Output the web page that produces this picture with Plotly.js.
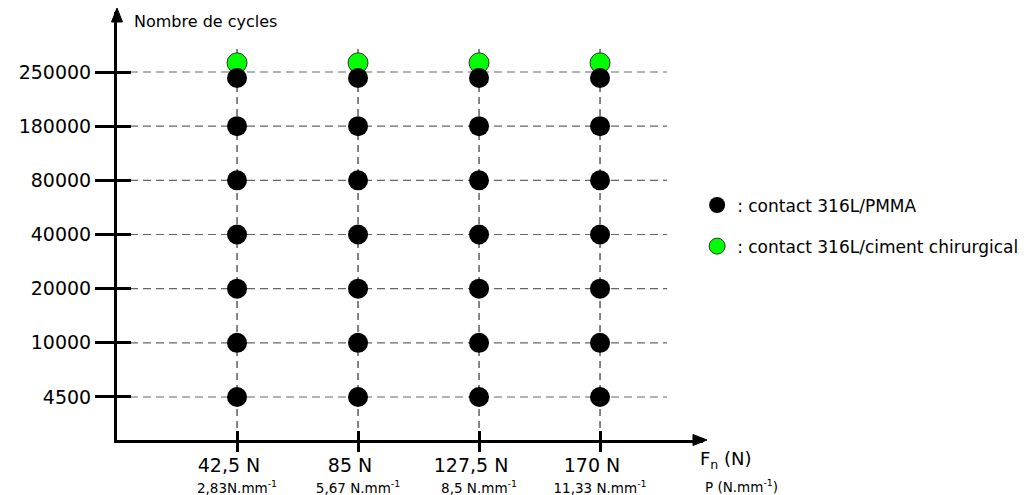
<!DOCTYPE html>
<html>
<head>
<meta charset="utf-8">
<script src="https://cdn.plot.ly/plotly-3.0.1.min.js"></script>
<style>html,body{margin:0;padding:0;background:#fff;}</style>
</head>
<body>
<div id="chart" style="width:1030px;height:495px;"></div>
<script>
// ---- data ----
const forceLabels = ['42,5 N', '85 N', '127,5 N', '170 N'];
const pressureLabels = ['2,83N.mm<sup>-1</sup>', '5,67 N.mm<sup>-1</sup>', '8,5 N.mm<sup>-1</sup>', '11,33 N.mm<sup>-1</sup>'];
const forceValues = [42.5, 85, 127.5, 170];
const cycleLevels = [4500, 10000, 20000, 40000, 80000, 180000, 250000];
// cycles tested for each force
const pmmaCycles = [4500, 10000, 20000, 40000, 80000, 180000, 250000];
const cimentCycles = [250000];
const pmmaName = ': contact 316L/PMMA';
const cimentName = ': contact 316L/ciment chirurgical';

// ---- build points ----
const fIdx = f => forceValues.indexOf(f);
const cIdx = c => cycleLevels.indexOf(c);
// visual dodge when both contacts share the same (force, cycles) cell
const dodgeUp = 0.17, dodgeDown = 0.11;

const pmX = [], pmY = [], ciX = [], ciY = [];
forceValues.forEach(f => {
  pmmaCycles.forEach(c => {
    pmX.push(fIdx(f));
    pmY.push(cIdx(c) - (cimentCycles.includes(c) ? dodgeDown : 0));
  });
  cimentCycles.forEach(c => {
    ciX.push(fIdx(f));
    ciY.push(cIdx(c) + (pmmaCycles.includes(c) ? dodgeUp : 0));
  });
});

const xRange = [-0.992, 3.851];
const yRange = [-0.794, 7.108];
const xTicks = forceLabels.map((_, i) => i);
const yTicks = cycleLevels.map((_, i) => i);

const traces = [
  // empty helper trace so that the overlay axes (inner half of the crossing ticks) get drawn
  {type: 'scatter', mode: 'markers', x: [], y: [], xaxis: 'x2', yaxis: 'y2', showlegend: false, hoverinfo: 'skip'},
  {
    type: 'scatter', mode: 'markers', x: ciX, y: ciY, name: cimentName,
    legendgroup: 'b', legendrank: 2,
    marker: {symbol: 'circle', size: 20, color: '#00ff00', line: {color: '#333', width: 1}},
    hoverinfo: 'skip'
  },
  {
    type: 'scatter', mode: 'markers', x: pmX, y: pmY, name: pmmaName,
    legendgroup: 'a', legendrank: 1,
    marker: {symbol: 'circle', size: 20, color: '#000', line: {color: '#000', width: 0}},
    hoverinfo: 'skip'
  }
];

const shapes = [];
yTicks.forEach(i => shapes.push({
  type: 'line', layer: 'below', xref: 'x', yref: 'y',
  x0: xRange[0], x1: 3.554, y0: i, y1: i,
  line: {color: '#666', width: 1.2, dash: '8px,5px'}
}));
xTicks.forEach(i => shapes.push({
  type: 'line', layer: 'below', xref: 'x', yref: 'y',
  x0: i, x1: i, y0: yRange[0], y1: 6.5,
  line: {color: '#333', width: 1.2, dash: '7px,5px'}
}));
// arrowheads at the ends of both axes
shapes.push({
  type: 'path', xref: 'paper', yref: 'paper', xsizemode: 'pixel', ysizemode: 'pixel',
  xanchor: 0, yanchor: 1, path: 'M -5.5 -10 L 0 4 L 5.5 -10 Z',
  fillcolor: '#000', line: {color: '#000', width: 1}
});
shapes.push({
  type: 'path', xref: 'paper', yref: 'paper', xsizemode: 'pixel', ysizemode: 'pixel',
  xanchor: 1, yanchor: 0, path: 'M -10 -5.5 L 4 0 L -10 5.5 Z',
  fillcolor: '#000', line: {color: '#000', width: 1}
});

const layout = {
  width: 1030, height: 495,
  margin: {l: 117, r: 327, t: 12, b: 55, pad: 0, autoexpand: false},
  paper_bgcolor: '#fff', plot_bgcolor: '#fff',
  font: {family: 'DejaVu Sans, sans-serif', color: '#000', size: 14},
  showlegend: true,
  legend: {
    x: 0.99, y: 0.59, xanchor: 'left', yanchor: 'top',
    traceorder: 'grouped', tracegroupgap: 16,
    font: {size: 17, color: '#000'}, bgcolor: 'rgba(0,0,0,0)', borderwidth: 0,
    itemsizing: 'trace'
  },
  xaxis: {
    range: xRange, tickmode: 'array', tickvals: xTicks, ticktext: forceLabels,
    showline: true, linewidth: 3, linecolor: '#000',
    ticks: 'outside', ticklen: 9, tickwidth: 3, tickcolor: '#000',
    tickfont: {size: 19}, ticklabelshift: -8, ticklabelstandoff: -3,
    showgrid: false, zeroline: false, fixedrange: true
  },
  xaxis2: {
    overlaying: 'x', anchor: 'y2', side: 'bottom', range: xRange, tickmode: 'array', tickvals: xTicks,
    ticktext: pressureLabels, tickfont: {size: 13.5}, ticklabelstandoff: 38,
    ticks: 'inside', ticklen: 9, tickwidth: 3, tickcolor: '#000',
    showticklabels: true, showline: false, showgrid: false, zeroline: false, fixedrange: true
  },
  yaxis: {
    range: yRange, tickmode: 'array', tickvals: yTicks, ticktext: cycleLevels.map(String),
    showline: true, linewidth: 3, linecolor: '#000',
    ticks: 'outside', ticklen: 19, tickwidth: 3, tickcolor: '#000',
    tickfont: {size: 19},
    showgrid: false, zeroline: false, fixedrange: true
  },
  yaxis2: {
    overlaying: 'y', anchor: 'x2', side: 'left', range: yRange, tickmode: 'array', tickvals: yTicks,
    ticks: 'inside', ticklen: 14, tickwidth: 3, tickcolor: '#000',
    showticklabels: false, showline: false, showgrid: false, zeroline: false, fixedrange: true
  },
  shapes: shapes,
  annotations: [
    {xref: 'paper', yref: 'paper', x: 0.0256, y: 0.977, xanchor: 'left', yanchor: 'middle',
     text: 'Nombre de cycles', showarrow: false, font: {size: 16}},
    {xref: 'paper', yref: 'paper', x: 0.9915, y: -0.047, xanchor: 'left', yanchor: 'middle',
     text: 'F<sub>n</sub> (N)', showarrow: false, font: {size: 18}},
    {xref: 'paper', yref: 'paper', x: 1.0, y: -0.107, xanchor: 'left', yanchor: 'middle',
     text: 'P (N.mm<sup>-1</sup>)', showarrow: false, font: {size: 13.5}}
  ]
};

Plotly.newPlot('chart', traces, layout, {displayModeBar: false, staticPlot: true});
</script>
</body>
</html>
